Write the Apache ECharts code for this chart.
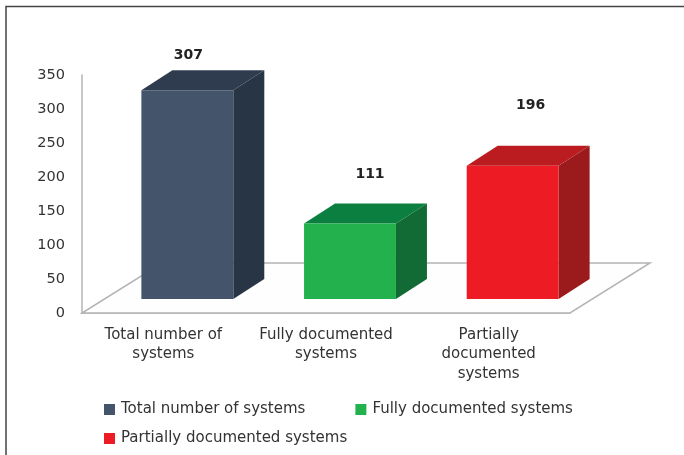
<!DOCTYPE html>
<html>
<head>
<meta charset="utf-8">
<style>html,body{margin:0;padding:0;background:#fff}#c{width:684px;height:455px}</style>
<script src="https://cdn.jsdelivr.net/npm/echarts@6/dist/echarts.min.js"></script>
</head>
<body>
<div id="c"></div>
<script>
const categories = ['Total number of systems', 'Fully documented systems', 'Partially documented systems'];
const axisLabels = ['Total number of\nsystems', 'Fully documented\nsystems', 'Partially\ndocumented\nsystems'];
const values = [307, 111, 196];
const frontColors = ['#44546a', '#22b14c', '#ed1c24'];
const topColors = ['#2f3c4f', '#0b7f3f', '#bb1c20'];
const sideColors = ['#283545', '#126b35', '#9b1a1c'];
// how far each value label sits from the bar's front-top centre
const labelShift = [[1, -35], [20, -49], [18, -60]];

const FONT = '"DejaVu Sans", sans-serif';
const DX = 31, DY = 20, LIFT = 14, SHIFT = 24, BAR_RATIO = 0.565;

function renderBar(i) {
  return function (params, api) {
    const top = api.coord([api.value(0), api.value(1)]);
    const base = api.coord([api.value(0), 0]);
    const w = api.size([1, 0])[0] * BAR_RATIO;
    const l = top[0] + SHIFT - w / 2, r = l + w;
    const t = top[1] - LIFT, b = base[1] - LIFT;
    return {
      type: 'group',
      children: [
        { type: 'polygon', shape: { points: [[r, t], [r + DX, t - DY], [r + DX, b - DY], [r, b]] }, style: { fill: sideColors[i] } },
        { type: 'polygon', shape: { points: [[l, t], [l + DX, t - DY], [r + DX, t - DY], [r, t]] }, style: { fill: topColors[i] } },
        { type: 'rect', shape: { x: l, y: t, width: w, height: b - t }, style: { fill: frontColors[i] } },
        { type: 'text', style: {
            text: String(api.value(1)),
            x: top[0] + SHIFT + labelShift[i][0], y: t + labelShift[i][1],
            align: 'center', verticalAlign: 'middle',
            fill: '#222', font: 'bold 14px ' + FONT } }
      ]
    };
  };
}

function renderFloor(params) {
  const c = params.coordSys;
  const x0 = c.x, x1 = c.x + c.width, y = c.y + c.height;
  return {
    type: 'polygon',
    shape: { points: [[x0, y], [x1, y], [x1 + 80, y - 50], [x0 + 80, y - 50]] },
    style: { fill: '#fefefe', stroke: '#b4b4b4', lineWidth: 1.5 }
  };
}

const series = [{
  type: 'custom', name: 'floor', silent: true, z: 1, clip: false,
  renderItem: renderFloor, data: [[0, 0]]
}].concat(categories.map((name, i) => ({
  type: 'custom', name, z: 3, clip: false, silent: true,
  itemStyle: { color: frontColors[i] },
  renderItem: renderBar(i),
  data: [[i, values[i]]]
})));

const legendBase = {
  left: 104, orient: 'horizontal', icon: 'rect', itemWidth: 11, itemHeight: 11,
  itemGap: 50, padding: 0,
  textStyle: { color: '#333', fontSize: 15, fontFamily: FONT, padding: [0, 0, 0, 1] }
};

const chart = echarts.init(document.getElementById('c'), null, { renderer: 'canvas' });
chart.setOption({
  animation: false,
  backgroundColor: '#fff',
  grid: { left: 82, right: 114, top: 75, bottom: 142 },
  xAxis: {
    type: 'category', data: categories,
    axisTick: { show: false },
    axisLine: { lineStyle: { color: '#b4b4b4', width: 1.5 } },
    axisLabel: {
      margin: 12, color: '#333', fontSize: 15, fontFamily: FONT, lineHeight: 19.5, interval: 0,
      formatter: (v, i) => axisLabels[i]
    }
  },
  yAxis: {
    type: 'value', min: 0, max: 350, interval: 50,
    splitLine: { show: false },
    axisTick: { show: false },
    axisLine: { show: true, lineStyle: { color: '#b4b4b4', width: 1.5 } },
    axisLabel: { margin: 17, color: '#333', fontSize: 14.5, fontFamily: FONT, padding: [2, 0, 0, 0] }
  },
  legend: [
    Object.assign({}, legendBase, { top: 402, data: categories.slice(0, 2) }),
    Object.assign({}, legendBase, { top: 431, data: categories.slice(2) })
  ],
  graphic: [
    { type: 'polyline', silent: true, shape: { points: [[6, 455], [6, 6.5], [684, 6.5]] }, style: { fill: 'none', stroke: '#444', lineWidth: 1.5 } }
  ],
  series
});
</script>
</body>
</html>
